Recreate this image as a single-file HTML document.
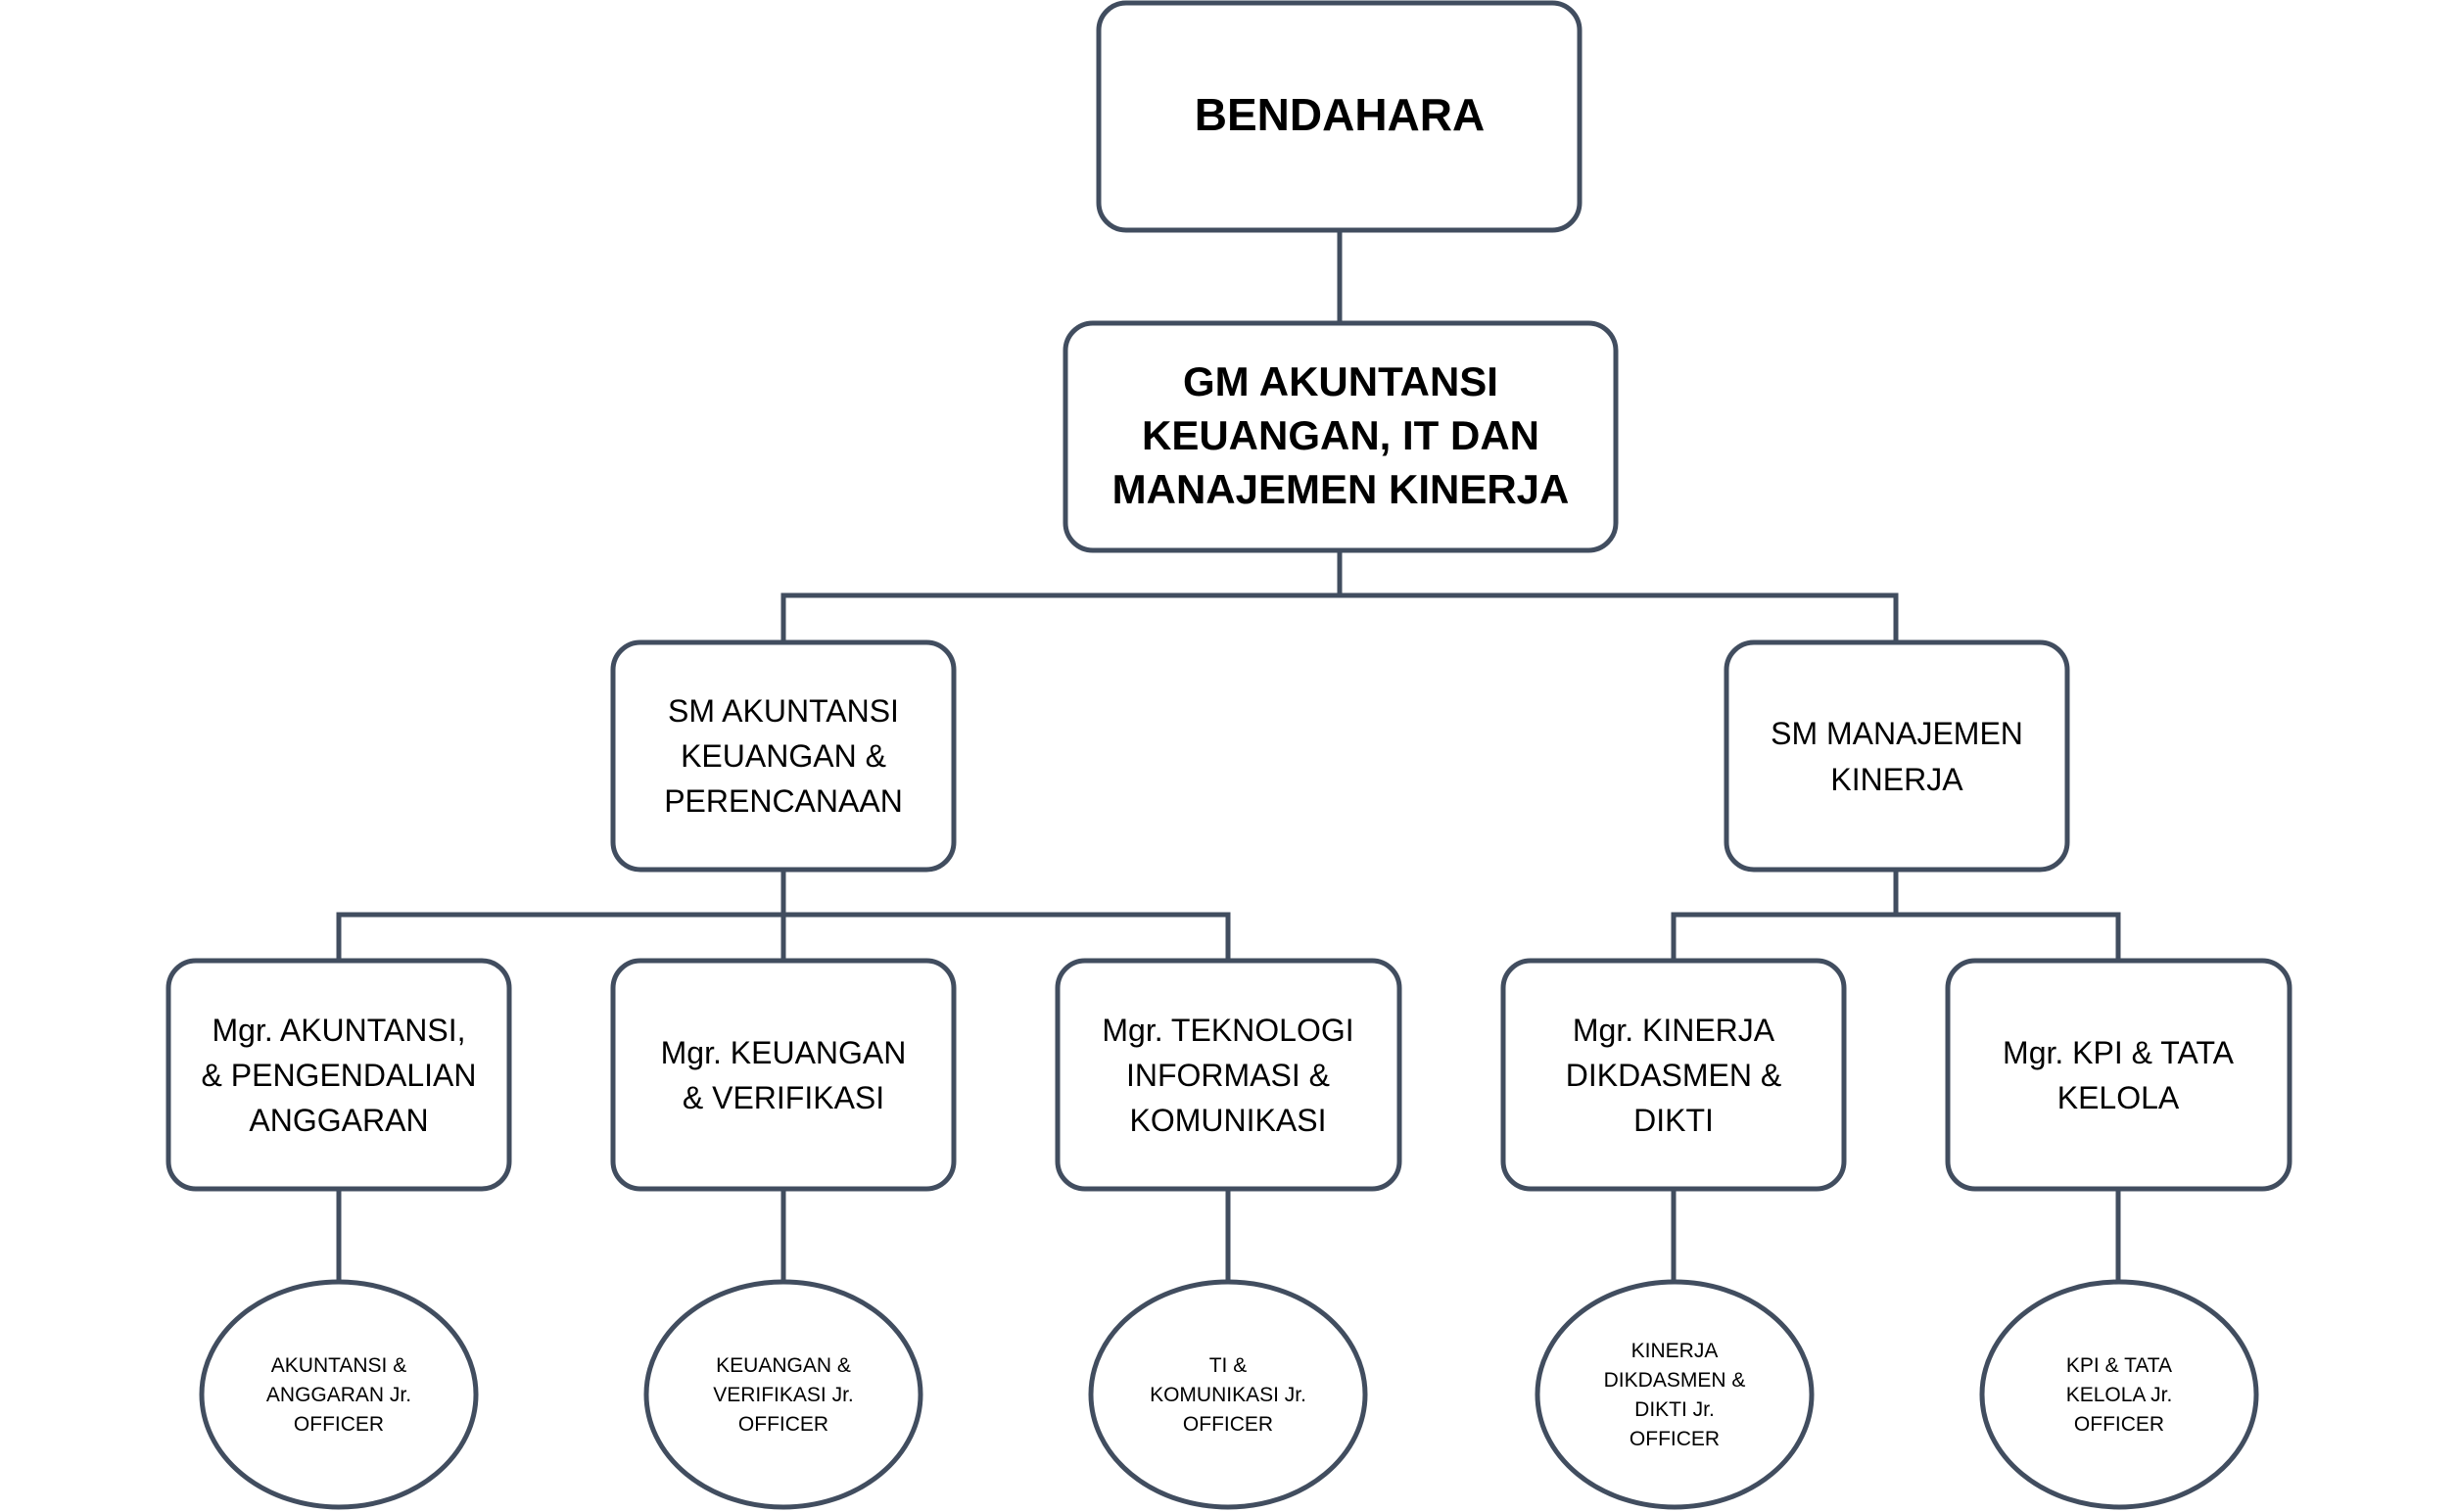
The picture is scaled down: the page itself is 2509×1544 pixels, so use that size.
<!DOCTYPE html>
<html><head><meta charset="utf-8"><style>
html,body{margin:0;padding:0;background:#fff;}
svg{display:block;}
text{font-family:"Liberation Sans",sans-serif;fill:#000;text-anchor:middle;}
.b{font-weight:bold;}
</style></head><body>
<svg width="2509" height="1544" viewBox="0 0 2509 1544" xmlns="http://www.w3.org/2000/svg">
<g stroke="#414d5f" stroke-width="5" fill="none">
<line x1="1368" y1="235" x2="1368" y2="330"/>
<line x1="1368" y1="562" x2="1368" y2="608"/>
<polyline points="800,656 800,608 1936,608 1936,656"/>
<line x1="800" y1="888" x2="800" y2="981"/>
<polyline points="346,981 346,934 1254,934 1254,981"/>
<line x1="1936" y1="888" x2="1936" y2="934"/>
<polyline points="1709,981 1709,934 2163,934 2163,981"/>
<line x1="346" y1="1214" x2="346" y2="1309"/>
<line x1="800" y1="1214" x2="800" y2="1309"/>
<line x1="1254" y1="1214" x2="1254" y2="1309"/>
<line x1="1709" y1="1214" x2="1709" y2="1309"/>
<line x1="2163" y1="1214" x2="2163" y2="1309"/>
</g>
<g stroke="#414d5f" stroke-width="5" fill="#fff">
<rect x="1122" y="3" width="491" height="232" rx="28"/>
<rect x="1088" y="330" width="562" height="232" rx="28"/>
<rect x="626" y="656" width="348" height="232" rx="28"/>
<rect x="1763" y="656" width="348" height="232" rx="28"/>
<rect x="172" y="981" width="348" height="233" rx="28"/>
<rect x="626" y="981" width="348" height="233" rx="28"/>
<rect x="1080" y="981" width="349" height="233" rx="28"/>
<rect x="1535" y="981" width="348" height="233" rx="28"/>
<rect x="1989" y="981" width="349" height="233" rx="28"/>
<ellipse cx="346" cy="1424" rx="140" ry="115"/>
<ellipse cx="800" cy="1424" rx="140" ry="115"/>
<ellipse cx="1254" cy="1424" rx="140" ry="115"/>
<ellipse cx="1710" cy="1424" rx="140" ry="115"/>
<ellipse cx="2164" cy="1424" rx="140" ry="115"/>
</g>
<text class="b" x="1368" y="133" font-size="46">BENDAHARA</text>
<g class="b" font-size="42" font-weight="bold">
<text x="1369" y="404" font-weight="bold">GM AKUNTANSI</text>
<text x="1369" y="459" font-weight="bold">KEUANGAN, IT DAN</text>
<text x="1369" y="514" font-weight="bold">MANAJEMEN KINERJA</text>
</g>
<g font-size="32">
<text x="800" y="737">SM AKUNTANSI</text>
<text x="800" y="783">KEUANGAN &amp;</text>
<text x="800" y="829">PERENCANAAN</text>
<text x="1937" y="760">SM MANAJEMEN</text>
<text x="1937" y="807">KINERJA</text>
<text x="346" y="1063">Mgr. AKUNTANSI,</text>
<text x="346" y="1109">&amp; PENGENDALIAN</text>
<text x="346" y="1155">ANGGARAN</text>
<text x="800" y="1086">Mgr. KEUANGAN</text>
<text x="800" y="1132">&amp; VERIFIKASI</text>
<text x="1254" y="1063">Mgr. TEKNOLOGI</text>
<text x="1254" y="1109">INFORMASI &amp;</text>
<text x="1254" y="1155">KOMUNIKASI</text>
<text x="1709" y="1063">Mgr. KINERJA</text>
<text x="1709" y="1109">DIKDASMEN &amp;</text>
<text x="1709" y="1155">DIKTI</text>
<text x="2163" y="1086">Mgr. KPI &amp; TATA</text>
<text x="2163" y="1132">KELOLA</text>
</g>
<g font-size="21">
<text x="346" y="1401">AKUNTANSI &amp;</text>
<text x="346" y="1431">ANGGARAN Jr.</text>
<text x="346" y="1461">OFFICER</text>
<text x="800" y="1401">KEUANGAN &amp;</text>
<text x="800" y="1431">VERIFIKASI Jr.</text>
<text x="800" y="1461">OFFICER</text>
<text x="1254" y="1401">TI &amp;</text>
<text x="1254" y="1431">KOMUNIKASI Jr.</text>
<text x="1254" y="1461">OFFICER</text>
<text x="1710" y="1386">KINERJA</text>
<text x="1710" y="1416">DIKDASMEN &amp;</text>
<text x="1710" y="1446">DIKTI Jr.</text>
<text x="1710" y="1476">OFFICER</text>
<text x="2164" y="1401">KPI &amp; TATA</text>
<text x="2164" y="1431">KELOLA Jr.</text>
<text x="2164" y="1461">OFFICER</text>
</g>
</svg>
</body></html>
